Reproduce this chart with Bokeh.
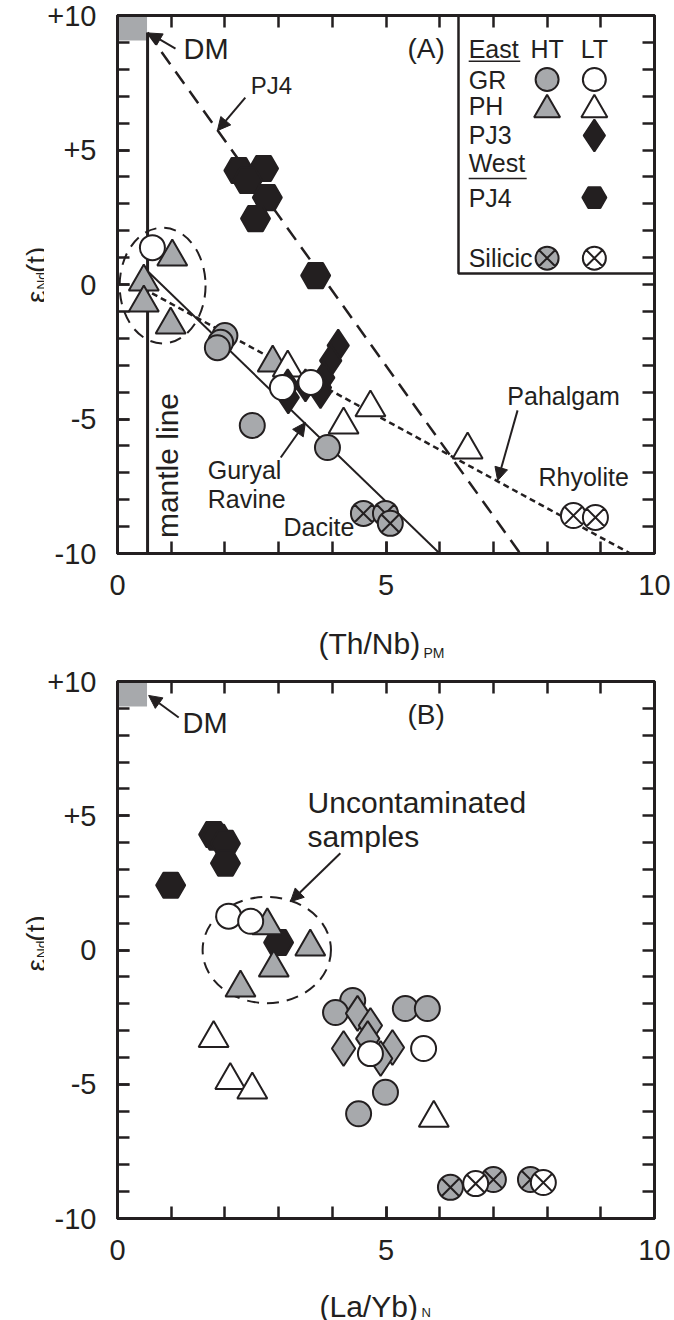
import math
from bokeh.plotting import figure
from bokeh.models import (Label, Arrow, NormalHead, LinearAxis, SingleIntervalTicker,
                          FixedTicker, Range1d)
from bokeh.layouts import column, row
from bokeh.embed import file_html
from bokeh.resources import INLINE

BLACK = "#231f20"
GRAY = "#a7a9ac"
FONT = "Liberation Sans"

# ---------------- Panel A data: eps Nd(t) vs (Th/Nb)PM ----------------
a_gr_ht_x = [2.0, 1.92, 1.86, 2.51, 3.91]
a_gr_ht_y = [-1.9, -2.15, -2.35, -5.24, -6.06]
a_gr_lt_x = [0.65, 3.07, 3.6]
a_gr_lt_y = [1.37, -3.83, -3.64]
a_ph_ht_x = [1.02, 0.49, 0.49, 0.99, 2.89]
a_ph_ht_y = [1.03, 0.1, -0.68, -1.5, -2.91]
a_ph_lt_x = [3.17, 4.71, 4.21, 6.52]
a_ph_lt_y = [-3.1, -4.58, -5.22, -6.15]
a_pj3_x = [4.11, 3.97, 3.84, 3.78, 3.17, 3.18, 3.5, 3.78]
a_pj3_y = [-2.27, -2.83, -3.46, -3.83, -3.75, -4.2, -3.75, -4.0]
a_pj4_x = [2.26, 2.72, 2.42, 2.79, 2.57, 3.69]
a_pj4_y = [4.24, 4.31, 3.87, 3.23, 2.45, 0.33]
a_sil_ht_x = [4.58, 4.99, 5.08]
a_sil_ht_y = [-8.51, -8.51, -8.88]
a_sil_lt_x = [8.49, 8.9]
a_sil_lt_y = [-8.59, -8.66]

# model lines (panel A)
mantle_x = [0.56, 0.56]
mantle_y = [9.37, -10.0]
pj4_line_x = [0.56, 7.5]
pj4_line_y = [9.37, -10.0]
guryal_x = [0.49, 6.0]
guryal_y = [0.63, -10.0]
pahalgam_x = [0.48, 9.55]
pahalgam_y = [-0.15, -10.0]

# ---------------- Panel B data: eps Nd(t) vs (La/Yb)N ----------------
b_gr_ht_x = [4.38, 4.06, 5.36, 5.77, 4.99, 4.49]
b_gr_ht_y = [-1.88, -2.33, -2.18, -2.18, -5.3, -6.1]
b_gr_lt_x = [2.07, 2.48, 4.71, 5.7]
b_gr_lt_y = [1.26, 1.07, -3.86, -3.67]
b_ph_ht_x = [2.79, 3.59, 2.91, 2.29]
b_ph_ht_y = [0.91, 0.12, -0.66, -1.41]
b_ph_lt_x = [1.79, 2.1, 2.51, 5.89]
b_ph_lt_y = [-3.29, -4.85, -5.21, -6.26]
b_pj3_x = [4.47, 4.71, 4.66, 4.21, 5.12, 4.9]
b_pj3_y = [-2.36, -2.81, -3.3, -3.67, -3.63, -4.04]
b_pj4_x = [1.79, 1.85, 2.01, 2.01, 0.99, 3.0]
b_pj4_y = [4.3, 4.2, 3.97, 3.23, 2.41, 0.28]
b_sil_ht_x = [6.2, 7.0, 7.69]
b_sil_ht_y = [-8.84, -8.55, -8.55]
b_sil_lt_x = [6.67, 7.93]
b_sil_lt_y = [-8.7, -8.66]

# DM reservoir box
dm_left, dm_right, dm_bottom, dm_top = [0.0], [0.55], [9.07], [10.0]

# tick labels
x_tick_labels = {0: "0", 5: "5", 10: "10"}
y_tick_labels = {10: "+10", 5: "+5", 0: "0", -5: "-5", -10: "-10"}
minor_positions = list(range(-10, 11))

YT_W = 44  # width of the strip holding the y-axis title


def style_axis(ax, show_labels, overrides=None):
    if show_labels:
        ax.ticker = SingleIntervalTicker(interval=5, num_minor_ticks=5)
    else:
        ax.ticker = FixedTicker(ticks=[], minor_ticks=minor_positions)
    ax.axis_line_color = BLACK
    ax.axis_line_width = 3
    ax.major_tick_in = 12
    ax.major_tick_out = 0
    ax.minor_tick_in = 12
    ax.minor_tick_out = 0
    ax.major_tick_line_color = BLACK
    ax.minor_tick_line_color = BLACK
    ax.major_tick_line_width = 2.5
    ax.minor_tick_line_width = 2.5
    if show_labels:
        ax.major_label_text_font = FONT
        ax.major_label_text_font_size = "29px"
        ax.major_label_text_color = BLACK
        ax.major_label_standoff = 21
        ax.major_label_overrides = overrides
    else:
        ax.major_label_standoff = 0


def make_fig(height, top, bottom):
    p = figure(width=674 - YT_W, height=height, x_range=Range1d(0, 10), y_range=Range1d(-10, 10),
               output_backend="svg", toolbar_location=None,
               min_border_left=117 - YT_W, min_border_right=20, min_border_top=top,
               min_border_bottom=bottom)
    p.xgrid.visible = False
    p.ygrid.visible = False
    p.outline_line_color = BLACK
    p.outline_line_width = 3
    p.background_fill_color = "white"
    p.border_fill_color = "white"
    style_axis(p.xaxis[0], True, x_tick_labels)
    style_axis(p.yaxis[0], True, y_tick_labels)
    top_ax = LinearAxis()
    right_ax = LinearAxis()
    style_axis(top_ax, False)
    style_axis(right_ax, False)
    p.add_layout(top_ax, "above")
    p.add_layout(right_ax, "right")
    return p


def text_fig(w, h):
    # plain strip whose frame fills it; 1 data unit = 1 pixel, origin bottom-left
    f = figure(width=w, height=h, x_range=Range1d(0, w), y_range=Range1d(0, h),
               output_backend="svg", toolbar_location=None, min_border=0,
               x_axis_type=None, y_axis_type=None, outline_line_color=None,
               background_fill_color="white", border_fill_color="white")
    return f


def lab(p, x, y, text, size, align="left", baseline="middle", angle=0.0):
    p.add_layout(Label(x=x, y=y, text=text, text_font=FONT, text_font_size=f"{size}px",
                       text_color=BLACK, text_align=align, text_baseline=baseline,
                       angle=angle))


def lab_px(f, h, x, y_from_top, text, size, **kw):
    lab(f, x, h - y_from_top, text, size, **kw)


def arrow(p, x0, y0, x1, y1):
    p.add_layout(Arrow(x_start=x0, y_start=y0, x_end=x1, y_end=y1, line_color=BLACK,
                       line_width=2,
                       end=NormalHead(size=13, fill_color=BLACK, line_color=BLACK, line_width=1)))


def draw_points(p, gr_ht, gr_lt, ph_ht, ph_lt, pj3, pj4, sil_ht, sil_lt, pj3_fill, pj3_size):
    mk = dict(line_color=BLACK, line_width=2)
    p.scatter(pj4[0], pj4[1], marker="hex", size=29, fill_color=BLACK, **mk)
    p.scatter(ph_ht[0], ph_ht[1], marker="triangle", size=30, fill_color=GRAY, **mk)
    p.scatter(ph_lt[0], ph_lt[1], marker="triangle", size=30, fill_color="white", **mk)
    p.scatter(gr_ht[0], gr_ht[1], marker="circle", size=25, fill_color=GRAY, **mk)
    p.scatter(pj3[0], pj3[1], marker="diamond", size=pj3_size, fill_color=pj3_fill, **mk)
    p.scatter(gr_lt[0], gr_lt[1], marker="circle", size=25, fill_color="white", **mk)
    p.scatter(sil_ht[0], sil_ht[1], marker="circle_x", size=25, fill_color=GRAY, **mk)
    p.scatter(sil_lt[0], sil_lt[1], marker="circle_x", size=25, fill_color="white", **mk)


def y_title_fig(h, dy):
    f = text_fig(YT_W, h)
    rot = math.pi / 2
    lab_px(f, h, 36, 325 + dy, "ε", 28, baseline="alphabetic", angle=rot)
    lab_px(f, h, 41, 310 + dy, "Nd", 14, baseline="alphabetic", angle=rot)
    lab_px(f, h, 36, 291 + dy, "(t)", 28, baseline="alphabetic", angle=rot)
    return f


# ---------------- Panel A ----------------
HA = 608
pA = make_fig(HA, 15, 55)
pA.quad(left=dm_left, right=dm_right, bottom=dm_bottom, top=dm_top, fill_color=GRAY, line_color=None)
pA.ellipse(x=[0.84], y=[-0.04], width=[1.6], height=[4.3], fill_color=None,
           line_color=BLACK, line_width=2, line_dash="12 8")
pA.line(mantle_x, mantle_y, line_color=BLACK, line_width=3)
pA.line(pj4_line_x, pj4_line_y, line_color=BLACK, line_width=2.5, line_dash="15 9")
pA.line(guryal_x, guryal_y, line_color=BLACK, line_width=2)
pA.line(pahalgam_x, pahalgam_y, line_color=BLACK, line_width=2.5, line_dash="6 4")
draw_points(pA, (a_gr_ht_x, a_gr_ht_y), (a_gr_lt_x, a_gr_lt_y), (a_ph_ht_x, a_ph_ht_y),
            (a_ph_lt_x, a_ph_lt_y), (a_pj3_x, a_pj3_y), (a_pj4_x, a_pj4_y),
            (a_sil_ht_x, a_sil_ht_y), (a_sil_lt_x, a_sil_lt_y), BLACK, 32)

# legend box
pA.quad(left=[6.35], right=[10], bottom=[0.41], top=[10], fill_color="white",
        line_color=BLACK, line_width=2.5)
leg_label_x = 6.54
ht_x, lt_x = 8.0, 8.88
lab(pA, leg_label_x, 8.77, "East", 25)
lab(pA, ht_x, 8.77, "HT", 25, align="center")
lab(pA, lt_x, 8.77, "LT", 25, align="center")
lab(pA, leg_label_x, 7.62, "GR", 25)
lab(pA, leg_label_x, 6.62, "PH", 25)
lab(pA, leg_label_x, 5.54, "PJ3", 25)
lab(pA, leg_label_x, 4.5, "West", 25)
lab(pA, leg_label_x, 3.23, "PJ4", 25)
lab(pA, leg_label_x, 0.98, "Silicic", 25)
pA.segment(x0=[6.54, 6.54], y0=[8.3, 3.94], x1=[7.5, 7.62], y1=[8.3, 3.94],
           line_color=BLACK, line_width=1.5)
mk = dict(line_color=BLACK, line_width=2)
pA.scatter([ht_x], [7.62], marker="circle", size=23, fill_color=GRAY, **mk)
pA.scatter([lt_x], [7.62], marker="circle", size=23, fill_color="white", **mk)
pA.scatter([ht_x], [6.5], marker="triangle", size=26, fill_color=GRAY, **mk)
pA.scatter([lt_x], [6.5], marker="triangle", size=26, fill_color="white", **mk)
pA.scatter([lt_x], [5.54], marker="diamond", size=32, fill_color=BLACK, **mk)
pA.scatter([lt_x], [3.23], marker="hex", size=24, fill_color=BLACK, **mk)
pA.scatter([ht_x], [0.98], marker="circle_x", size=23, fill_color=GRAY, **mk)
pA.scatter([lt_x], [0.98], marker="circle_x", size=23, fill_color="white", **mk)

# annotations
lab(pA, 5.4, 8.77, "(A)", 28)
lab(pA, 1.23, 8.77, "DM", 29)
arrow(pA, 1.08, 8.77, 0.58, 9.35)
lab(pA, 2.48, 7.4, "PJ4", 24)
arrow(pA, 2.38, 6.95, 1.86, 5.72)
lab(pA, 1.68, -6.91, "Guryal", 25)
lab(pA, 1.68, -7.96, "Ravine", 25)
arrow(pA, 3.04, -6.43, 3.5, -5.13)
lab(pA, 3.09, -9.03, "Dacite", 25)
lab(pA, 7.26, -4.13, "Pahalgam", 25)
arrow(pA, 7.45, -4.68, 7.08, -7.29)
lab(pA, 7.84, -7.17, "Rhyolite", 25)
lab(pA, 0.93, -6.73, "mantle line", 30, align="center", angle=math.pi / 2)

ytA = y_title_fig(HA, 0)
XTA_H = 660 - HA
xtA = text_fig(674, XTA_H)
lab_px(xtA, XTA_H, 318, 643 - HA, "(Th/Nb)", 30, baseline="alphabetic")
lab_px(xtA, XTA_H, 423, 652 - HA, "PM", 14, baseline="alphabetic")

# ---------------- Panel B ----------------
HB = 613
pB = make_fig(HB, 21, 55)
pB.quad(left=dm_left, right=dm_right, bottom=dm_bottom, top=dm_top, fill_color=GRAY, line_color=None)
pB.ellipse(x=[2.78], y=[0.0], width=[2.39], height=[3.96], fill_color=None,
           line_color=BLACK, line_width=2, line_dash="12 8")
draw_points(pB, (b_gr_ht_x, b_gr_ht_y), (b_gr_lt_x, b_gr_lt_y), (b_ph_ht_x, b_ph_ht_y),
            (b_ph_lt_x, b_ph_lt_y), (b_pj3_x, b_pj3_y), (b_pj4_x, b_pj4_y),
            (b_sil_ht_x, b_sil_ht_y), (b_sil_lt_x, b_sil_lt_y), GRAY, 35)

lab(pB, 5.4, 8.77, "(B)", 28)
lab(pB, 1.21, 8.44, "DM", 29)
arrow(pB, 1.14, 8.66, 0.58, 9.48)
lab(pB, 3.54, 5.49, "Uncontaminated", 30)
lab(pB, 3.54, 4.23, "samples", 30)
arrow(pB, 4.15, 3.6, 3.22, 1.8)

ytB = y_title_fig(HB, 6)
B0 = 660 + HB
XTB_H = 1320 - B0
xtB = text_fig(674, XTB_H)
lab_px(xtB, XTB_H, 319, 1306 - B0, "(La/Yb)", 30, baseline="alphabetic")
lab_px(xtB, XTB_H, 421, 1312 - B0, "N", 13, baseline="alphabetic")

layout = column(row(ytA, pA), xtA, row(ytB, pB), xtB)
open("out.html", "w").write(file_html(layout, INLINE))
